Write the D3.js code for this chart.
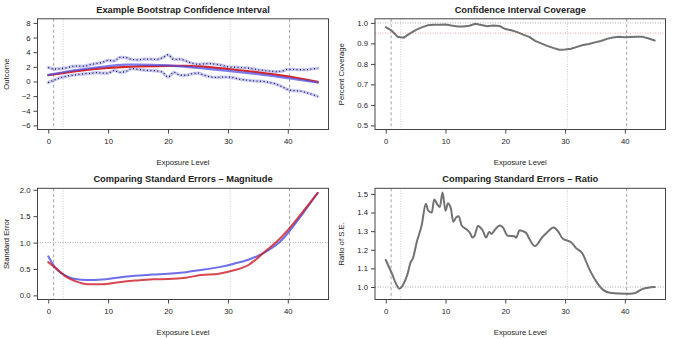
<!DOCTYPE html>
<html>
<head>
<meta charset="utf-8">
<script src="https://cdn.jsdelivr.net/npm/d3@7"></script>
<style>
  body { margin: 0; background: #fff; }
  svg text { font-family: "Liberation Sans", Arial, Helvetica, sans-serif; fill: #222; }
</style>
</head>
<body>
<div id="chart"></div>
<script>
// exposure grid and reference lines
var expo = d3.range(0, 46);
var vDashed = [0.9, 40.3],
    vDotted = [2.5, 30.4];
var xTicks = [0, 10, 20, 30, 40];

// panel 1: bootstrap CI
var ciUpper = [1.9, 1.7, 1.75, 1.85, 2.05, 2.1, 2.1, 2.3, 2.45, 2.6, 2.9, 2.8, 3.3, 3.25, 3.0, 2.95, 3.05, 3.05, 3.0, 3.2,
  3.65, 3.0, 3.05, 2.8, 2.5, 2.35, 2.4, 2.45, 2.35, 2.2, 2.0, 1.95, 1.9, 1.85, 1.75, 1.6, 1.5, 1.4, 1.35, 1.4,
  1.65, 1.65, 1.6, 1.6, 1.7, 1.8];
var ciLower = [-0.15, 0.2, 0.5, 0.7, 0.85, 0.95, 1.05, 1.1, 1.2, 1.15, 1.15, 1.5, 1.25, 1.4, 1.75, 1.65, 1.55, 1.5, 1.45, 1.3,
  0.6, 1.25, 0.85, 0.85, 1.05, 1.15, 0.85, 0.65, 0.55, 0.6, 0.6, 0.5, 0.3, 0.2, 0.1, 0.05, 0.0, -0.15, -0.35, -0.7,
  -1.1, -1.25, -1.3, -1.5, -1.75, -2.05];
var fitX = [0, 5, 10, 13, 15, 20, 23, 25, 30, 35, 40, 45];
var fitEst = [0.9, 1.6, 2.1, 2.3, 2.3, 2.2, 2.0, 1.85, 1.45, 1.0, 0.45, -0.15];
var fitTrue = [0.85, 1.45, 1.85, 2.0, 2.05, 2.12, 2.12, 2.05, 1.7, 1.25, 0.7, -0.05];

// panel 2: coverage
var coverage = [0.979, 0.962, 0.932, 0.928, 0.948, 0.965, 0.978, 0.988, 0.991, 0.991, 0.992, 0.987, 0.983, 0.982, 0.986,
  0.996, 0.99, 0.984, 0.987, 0.985, 0.97, 0.964, 0.955, 0.943, 0.932, 0.912, 0.9, 0.888, 0.878, 0.869, 0.87, 0.874,
  0.883, 0.892, 0.897, 0.905, 0.912, 0.922, 0.929, 0.932, 0.93, 0.931, 0.932, 0.932, 0.924, 0.914];

// panel 3: standard errors
var seX = [0, 1, 3, 4.5, 6.5, 9, 11.5, 14.5, 17.5, 20, 23, 25.5, 28.5, 31, 33.5, 35, 36.5, 38, 39, 40.5, 42.5, 45];
var seBoot = [0.74, 0.55, 0.37, 0.31, 0.29, 0.30, 0.335, 0.37, 0.395, 0.41, 0.44, 0.48, 0.535, 0.60, 0.68, 0.75, 0.84,
  0.95, 1.05, 1.25, 1.55, 1.94];
var seModel = [0.63, 0.54, 0.35, 0.27, 0.21, 0.21, 0.245, 0.28, 0.305, 0.31, 0.335, 0.385, 0.41, 0.475, 0.58, 0.71, 0.86,
  1.0, 1.11, 1.3, 1.58, 1.94];

// panel 4: ratio of standard errors
var ratioX = [0, 1, 1.8, 2.3, 2.9, 3.6, 4.2, 4.5, 5.2, 6.0, 6.7, 7.1, 7.7, 8.1, 8.7, 9.05, 9.5, 10.0, 10.4, 10.9, 11.3,
  11.8, 12.2, 12.7, 13.5, 14.1, 14.5, 14.9, 15.4, 16.2, 16.8, 17.3, 17.7, 18.2, 19.1, 19.6, 20.4, 21.5, 21.8, 22.4,
  22.9, 23.5, 24, 24.9, 25.4, 26, 26.8, 28.1, 28.8, 29.6, 30.3, 31, 31.8, 32.9, 34, 35.2, 36.3, 37.7, 40.2, 41.6, 43, 45];
var ratioY = [1.145, 1.074, 1.012, 0.991, 1.012, 1.065, 1.136, 1.15, 1.243, 1.33, 1.447, 1.41, 1.40, 1.47, 1.44, 1.43,
  1.508, 1.41, 1.45, 1.42, 1.35, 1.375, 1.38, 1.33, 1.31, 1.29, 1.266, 1.278, 1.328, 1.305, 1.266, 1.296, 1.285, 1.305,
  1.33, 1.32, 1.275, 1.273, 1.265, 1.305, 1.3, 1.29, 1.26, 1.22, 1.23, 1.26, 1.287, 1.32, 1.30, 1.26, 1.25, 1.24, 1.21,
  1.18, 1.10, 1.03, 0.986, 0.968, 0.964, 0.967, 0.99, 1.0];

var W = 675, H = 339;
var svg = d3.select("#chart").append("svg")
  .attr("width", W).attr("height", H);

var RED = "rgb(214,40,40)", BLUE = "rgba(95,95,235,0.8)";

// R style expanded domain (4%)
function expand(a, b) { var p = (b - a) * 0.04; return [a - p, b + p]; }

function panel(o) {
  var g = svg.append("g");
  var x = d3.scaleLinear().domain(expand(0, 45)).range([o.left, o.right]);
  var y = d3.scaleLinear().domain(expand(o.ylim[0], o.ylim[1])).range([o.bottom, o.top]);

  // reference lines
  vDashed.forEach(function(v) {
    g.append("line").attr("x1", x(v)).attr("x2", x(v)).attr("y1", o.top).attr("y2", o.bottom)
      .attr("stroke", "#8a8a8a").attr("stroke-width", 0.8).attr("stroke-dasharray", "3,2.5");
  });
  vDotted.forEach(function(v) {
    g.append("line").attr("x1", x(v)).attr("x2", x(v)).attr("y1", o.top).attr("y2", o.bottom)
      .attr("stroke", "#c4c4c4").attr("stroke-width", 0.8).attr("stroke-dasharray", "1,1.5");
  });
  (o.hlines || []).forEach(function(h) {
    g.append("line").attr("x1", o.left).attr("x2", o.right).attr("y1", y(h.v)).attr("y2", y(h.v))
      .attr("stroke", h.color).attr("stroke-width", 0.8).attr("stroke-dasharray", "1,1.5");
  });

  o.draw(g, x, y);

  // box
  g.append("rect").attr("x", o.left).attr("y", o.top)
    .attr("width", o.right - o.left).attr("height", o.bottom - o.top)
    .attr("fill", "none").attr("stroke", "#444").attr("stroke-width", 1);

  var xa = g.append("g").attr("transform", "translate(0," + o.bottom + ")")
    .call(d3.axisBottom(x).tickValues(xTicks).tickSize(4).tickPadding(5).tickFormat(d3.format("d")));
  var ya = g.append("g").attr("transform", "translate(" + o.left + ",0)")
    .call(d3.axisLeft(y).tickValues(o.yticks).tickSize(4).tickPadding(3).tickFormat(o.yfmt));
  [xa, ya].forEach(function(a) {
    a.select(".domain").remove();
    a.selectAll("line").attr("stroke", "#444");
    a.selectAll("text").style("font-size", "7.7px").attr("fill", "#222");
  });

  g.append("text").attr("x", (o.left + o.right) / 2).attr("y", o.top - 6)
    .attr("text-anchor", "middle").style("font-size", "9.3px").style("font-weight", "bold")
    .text(o.title);
  g.append("text").attr("x", (o.left + o.right) / 2).attr("y", o.bottom + 35)
    .attr("text-anchor", "middle").style("font-size", "7.7px").text("Exposure Level");
  g.append("text").attr("transform", "translate(" + o.ylabX + "," + ((o.top + o.bottom) / 2) + ") rotate(-90)")
    .attr("text-anchor", "middle").style("font-size", "7.7px").text(o.ylab);
}

function path(g, xs, ys, x, y, curve) {
  return g.append("path")
    .attr("d", d3.line().x(function(d, i) { return x(xs[i]); }).y(function(d) { return y(d); })
      .curve(curve || d3.curveLinear)(ys))
    .attr("fill", "none").attr("stroke-linejoin", "round").attr("stroke-linecap", "round");
}

var L = [37.5, 328.5], R = [375, 665.5], T = [18.8, 129.5], B = [188.3, 299.5];

panel({
  left: L[0], right: L[1], top: T[0], bottom: T[1], ylim: [-6, 8],
  yticks: d3.range(-6, 9, 2), yfmt: function(d) { return d < 0 ? "\u2212" + Math.abs(d) : d; },
  title: "Example Bootstrap Confidence Interval", ylab: "Outcome", ylabX: 9,
  draw: function(g, x, y) {
    [ciUpper, ciLower].forEach(function(s) {
      path(g, expo, s, x, y, d3.curveMonotoneX).attr("stroke", "rgba(150,150,240,0.55)").attr("stroke-width", 3.2);
      path(g, expo, s, x, y, d3.curveMonotoneX).attr("stroke", "#111").attr("stroke-width", 1.3)
        .attr("stroke-dasharray", "0.9,2.6").attr("stroke-linecap", "butt");
    });
    path(g, fitX, fitTrue, x, y, d3.curveMonotoneX).attr("stroke", RED).attr("stroke-width", 2.2);
    path(g, fitX, fitEst, x, y, d3.curveMonotoneX).attr("stroke", "rgba(80,80,230,0.75)").attr("stroke-width", 2.2);
  }
});

panel({
  left: R[0], right: R[1], top: T[0], bottom: T[1], ylim: [0.5, 1.0],
  yticks: [0.5, 0.6, 0.7, 0.8, 0.9, 1.0], yfmt: d3.format(".1f"),
  title: "Confidence Interval Coverage", ylab: "Percent Coverage", ylabX: 344,
  hlines: [{ v: 1.0, color: "#999" }, { v: 0.95, color: "#f08a8a" }],
  draw: function(g, x, y) {
    path(g, expo, coverage, x, y).attr("stroke", "#727272").attr("stroke-width", 2);
  }
});

panel({
  left: L[0], right: L[1], top: B[0], bottom: B[1], ylim: [0, 1.95],
  yticks: [0, 0.5, 1.0, 1.5, 2.0], yfmt: d3.format(".1f"),
  title: "Comparing Standard Errors \u2013 Magnitude", ylab: "Standard Error", ylabX: 9,
  hlines: [{ v: 1.0, color: "#999" }],
  draw: function(g, x, y) {
    path(g, seX, seBoot, x, y, d3.curveMonotoneX).attr("stroke", "rgb(110,110,235)").attr("stroke-width", 2);
    path(g, seX, seModel, x, y, d3.curveMonotoneX).attr("stroke", "rgba(205,25,35,0.8)").attr("stroke-width", 2);
  }
});

panel({
  left: R[0], right: R[1], top: B[0], bottom: B[1], ylim: [0.955, 1.508],
  yticks: [1.0, 1.1, 1.2, 1.3, 1.4, 1.5], yfmt: d3.format(".1f"),
  title: "Comparing Standard Errors \u2013 Ratio", ylab: "Ratio of S.E.", ylabX: 344,
  hlines: [{ v: 1.0, color: "#999" }],
  draw: function(g, x, y) {
    path(g, ratioX, ratioY, x, y, d3.curveMonotoneX).attr("stroke", "#727272").attr("stroke-width", 2);
  }
});
</script>
</body>
</html>
